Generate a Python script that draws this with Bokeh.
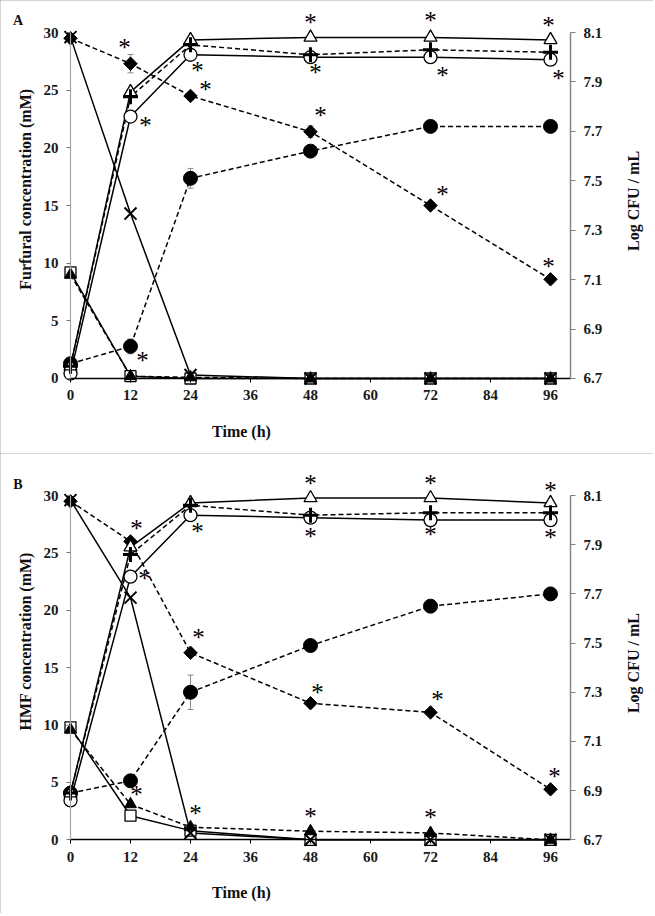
import math
from bokeh.plotting import figure
from bokeh.models import Range1d, LinearAxis, FixedTicker, Label, ColumnDataSource
from bokeh.layouts import column
from bokeh.embed import file_html
from bokeh.resources import INLINE
from bokeh.core.properties import value

# ---------------- data ----------------
time_h = [0, 12, 24, 48, 72, 96]
x_ticks = [0, 12, 24, 36, 48, 60, 72, 84, 96]
mm_ticks = [0, 5, 10, 15, 20, 25, 30]
cfu_ticks = [6.7, 6.9, 7.1, 7.3, 7.5, 7.7, 7.9, 8.1]

# Panel A (furfural) - concentrations, mM (left axis)
a_cross_mm = [29.6, 14.3, 0.3, 0.0, 0.0, 0.0]
a_diamond_mm = [29.5, 27.3, 24.5, 21.4, 15.0, 8.6]
a_square_mm = [9.2, 0.2, 0.0, 0.0, 0.0, 0.0]
a_ftri_mm = [9.0, 0.2, 0.1, 0.0, 0.0, 0.0]
# Panel A - log CFU/mL (right axis)
a_otri_cfu = [6.75, 7.86, 8.07, 8.08, 8.08, 8.07]
a_ocirc_cfu = [6.72, 7.76, 8.01, 8.00, 8.00, 7.99]
a_plus_cfu = [6.75, 7.84, 8.05, 8.01, 8.03, 8.02]
a_fcirc_cfu = [6.76, 6.83, 7.51, 7.62, 7.72, 7.72]
# Panel A error bars
a_diamond_err = [0.0, 0.8, 0.0, 0.5, 0.0, 0.0]
a_fcirc_err = [0.0, 0.03, 0.04, 0.0, 0.0, 0.0]

# Panel B (HMF) - concentrations, mM (left axis)
b_cross_mm = [29.6, 21.1, 0.6, 0.0, 0.0, 0.0]
b_diamond_mm = [29.5, 26.0, 16.3, 11.9, 11.1, 4.4]
b_square_mm = [9.8, 2.1, 0.8, 0.0, 0.0, 0.0]
b_ftri_mm = [9.6, 3.1, 1.1, 0.75, 0.6, 0.0]
# Panel B - log CFU/mL (right axis)
b_otri_cfu = [6.89, 7.89, 8.07, 8.09, 8.09, 8.07]
b_ocirc_cfu = [6.86, 7.77, 8.02, 8.01, 8.00, 8.00]
b_plus_cfu = [6.89, 7.86, 8.06, 8.02, 8.03, 8.03]
b_fcirc_cfu = [6.89, 6.94, 7.30, 7.49, 7.65, 7.70]
# Panel B error bars
b_diamond_err = [0.0, 0.3, 0.0, 0.0, 0.0, 0.0]
b_fcirc_err = [0.0, 0.0, 0.07, 0.0, 0.0, 0.0]

# significance marks: (series, time index)
a_stars = [("diamond", 1), ("ocirc", 1), ("ocirc", 2), ("diamond", 2),
           ("otri", 3), ("ocirc", 3), ("diamond", 3),
           ("otri", 4), ("ocirc", 4), ("diamond", 4),
           ("otri", 5), ("ocirc", 5), ("diamond", 5), ("fcirc", 1)]
b_stars = [("diamond", 1), ("ocirc", 1), ("ocirc", 2), ("diamond", 2),
           ("otri", 3), ("ocirc", 3), ("otri", 4), ("ocirc", 4),
           ("otri", 5), ("ocirc", 5), ("diamond", 3), ("diamond", 4),
           ("diamond", 5), ("ftri", 1), ("ftri", 2), ("ftri", 3), ("ftri", 4)]

# ---------------- styles ----------------
# pixel offsets of the asterisks relative to their point
a_star_off = [(-6, -17), (15, 8), (7, 15), (15, -7),
              (0, -16), (5, 14), (10, -17),
              (0, -18), (12, 17), (12, -12),
              (-2, -15), (8, 18), (-2, -14), (12, 13)]
b_star_off = [(6, -14), (14, 1), (7, 15), (8, -16),
              (0, -15), (0, 18), (0, -15), (0, 13),
              (0, -13), (0, 16), (7, -12), (7, -14),
              (4, -14), (6, -11), (5, -15), (0, -16), (0, -16)]

FONT = "Liberation Serif"
CFU_BASE, CFU_SPAN, MM_SPAN = 6.7, 1.4, 30.0
X_RANGE = (-14.0, 116.6)

series_style = {
    "cross":   dict(marker="x", size=17, line_width=2.0, fill_color=None, dash="solid", angle=0),
    "square":  dict(marker="square", size=11, line_width=1.3, fill_color="white", dash="solid", angle=0),
    "ftri":    dict(marker="triangle", size=12, line_width=1.0, fill_color="black", dash="5 3", angle=0),
    "diamond": dict(marker="square", size=9.5, line_width=1.0, fill_color="black", dash="5 3", angle=math.pi / 4),
    "otri":    dict(marker="triangle", size=13, line_width=1.3, fill_color="white", dash="solid", angle=0),
    "ocirc":   dict(marker="circle", size=13, line_width=1.3, fill_color="white", dash="solid", angle=0),
    "plus":    dict(marker="cross", size=15, line_width=3.0, fill_color=None, dash="5 3", angle=0),
    "fcirc":   dict(marker="circle", size=14, line_width=1.0, fill_color="black", dash="5 3", angle=0),
}
draw_order = ["fcirc", "diamond", "ocirc", "otri", "plus", "square", "ftri", "cross"]


def to_cfu(mm):
    return CFU_BASE + mm * CFU_SPAN / MM_SPAN


def make_panel(letter, ytitle, mm_series, cfu_series, errs, stars, star_off,
               height, y_range, ytitle_y, letter_y, time_y):
    p = figure(frame_width=653, frame_height=height,
               x_range=Range1d(*X_RANGE), y_range=Range1d(*y_range),
               min_border_left=0, min_border_right=0,
               min_border_top=0, min_border_bottom=0,
               output_backend="svg", toolbar_location=None)
    p.extra_y_ranges = {"cfu": Range1d(to_cfu(y_range[0]), to_cfu(y_range[1]))}
    p.xgrid.visible = False
    p.ygrid.visible = False
    p.outline_line_color = None
    p.background_fill_color = "white"
    p.border_fill_color = "white"

    # axes
    xa = p.xaxis[0]
    xa.fixed_location = 0
    xa.ticker = FixedTicker(ticks=x_ticks)
    xa.bounds = (0, 100)
    xa.axis_line_color = "black"
    xa.axis_line_width = 1.6
    xa.major_tick_line_color = "black"
    xa.major_tick_out = 4
    xa.major_tick_in = 0
    xa.minor_tick_line_color = None
    xa.major_label_standoff = 8

    ya = p.yaxis[0]
    ya.fixed_location = 0
    ya.ticker = FixedTicker(ticks=mm_ticks)
    ya.bounds = (0, 30)
    ya.axis_line_color = "#a8a8a8"
    ya.axis_line_width = 1.2
    ya.major_tick_line_color = "#777777"
    ya.major_tick_out = 4
    ya.major_tick_in = 0
    ya.minor_tick_line_color = None
    ya.major_label_standoff = 8

    ra = LinearAxis(y_range_name="cfu", ticker=FixedTicker(ticks=cfu_ticks))
    ra.fixed_location = 100
    ra.bounds = (6.7, 8.1)
    ra.axis_line_color = "#808080"
    ra.axis_line_width = 1.4
    ra.major_tick_line_color = "#808080"
    ra.major_tick_out = 5
    ra.major_tick_in = 0
    ra.minor_tick_line_color = None
    ra.major_label_standoff = 8
    p.add_layout(ra, "right")

    for ax in (xa, ya, ra):
        ax.major_label_text_font = FONT
        ax.major_label_text_font_style = "bold"
        ax.major_label_text_font_size = "15px"
        ax.major_label_text_color = "#1a1a1a"

    def yr(key):
        return "cfu" if key in cfu_series else "default"

    def vals(key):
        return cfu_series[key] if key in cfu_series else mm_series[key]

    # lines
    for key in draw_order:
        st = series_style[key]
        p.line(time_h, vals(key), line_color="black", line_width=1.5,
               line_dash=st["dash"], y_range_name=yr(key))

    # error bars
    for key, e in errs.items():
        v = vals(key)
        xs = [t for t, ee in zip(time_h, e) if ee > 0]
        lo = [vv - ee for vv, ee in zip(v, e) if ee > 0]
        hi = [vv + ee for vv, ee in zip(v, e) if ee > 0]
        p.segment(xs, lo, xs, hi, line_color="#8a8a8a", line_width=1.0, y_range_name=yr(key))
        for yy in (lo, hi):
            p.segment([x - 0.6 for x in xs], yy, [x + 0.6 for x in xs], yy,
                      line_color="#8a8a8a", line_width=1.0, y_range_name=yr(key))

    # markers
    for key in draw_order:
        st = series_style[key]
        p.scatter(time_h, vals(key), marker=st["marker"], size=st["size"], angle=st["angle"],
                  line_color="black", line_width=st["line_width"],
                  fill_color=st["fill_color"], y_range_name=yr(key))

    # asterisks
    for rng in ("default", "cfu"):
        xs, ys, dx, dy = [], [], [], []
        for (key, i), (ox, oy) in zip(stars, star_off):
            if yr(key) != rng:
                continue
            xs.append(time_h[i])
            ys.append(vals(key)[i])
            dx.append(ox)
            dy.append(oy + 1)
        if xs:
            src = ColumnDataSource(dict(x=xs, y=ys, dx=dx, dy=dy, t=["*"] * len(xs)))
            p.text("x", "y", text="t", x_offset="dx", y_offset="dy", source=src,
                   text_font=value(FONT), text_font_size="25px",
                   text_align="center", text_baseline="alphabetic",
                   text_color="black", y_range_name=rng)

    # titles
    lab = dict(text_font=FONT, text_font_style="bold", text_font_size="16px",
               text_color="#111111", text_align="center", text_baseline="middle")
    p.add_layout(Label(x=-9.0, y=ytitle_y, text=ytitle, angle=math.pi / 2, **lab))
    p.add_layout(Label(x=112.6, y=15.4, text="Log CFU / mL", angle=math.pi / 2, **lab))
    p.add_layout(Label(x=34.2, y=time_y, text="Time (h)", **lab))
    lab["text_font_size"] = "14px"
    p.add_layout(Label(x=-10.5, y=letter_y, text=letter, **lab))
    p.styles = {"outline": "2px solid #a9a9a9", "outline-offset": "-2px"}
    return p


pa = make_panel(
    "A", "Furfural concentration (mM)",
    {"cross": a_cross_mm, "diamond": a_diamond_mm, "square": a_square_mm, "ftri": a_ftri_mm},
    {"otri": a_otri_cfu, "ocirc": a_ocirc_cfu, "plus": a_plus_cfu, "fcirc": a_fcirc_cfu},
    {"diamond": a_diamond_err, "fcirc": a_fcirc_err},
    a_stars, a_star_off, height=453, y_range=(-6.503, 32.775),
    ytitle_y=16.4, letter_y=31.0, time_y=-4.6)

pb = make_panel(
    "B", "HMF concentration (mM)",
    {"cross": b_cross_mm, "diamond": b_diamond_mm, "square": b_square_mm, "ftri": b_ftri_mm},
    {"otri": b_otri_cfu, "ocirc": b_ocirc_cfu, "plus": b_plus_cfu, "fcirc": b_fcirc_cfu},
    {"diamond": b_diamond_err, "fcirc": b_fcirc_err},
    b_stars, b_star_off, height=460, y_range=(-6.42, 33.66),
    ytitle_y=17.3, letter_y=31.0, time_y=-4.57)

layout = column(pa, pb, spacing=0)
open("out.html", "w").write(file_html(layout, INLINE))
